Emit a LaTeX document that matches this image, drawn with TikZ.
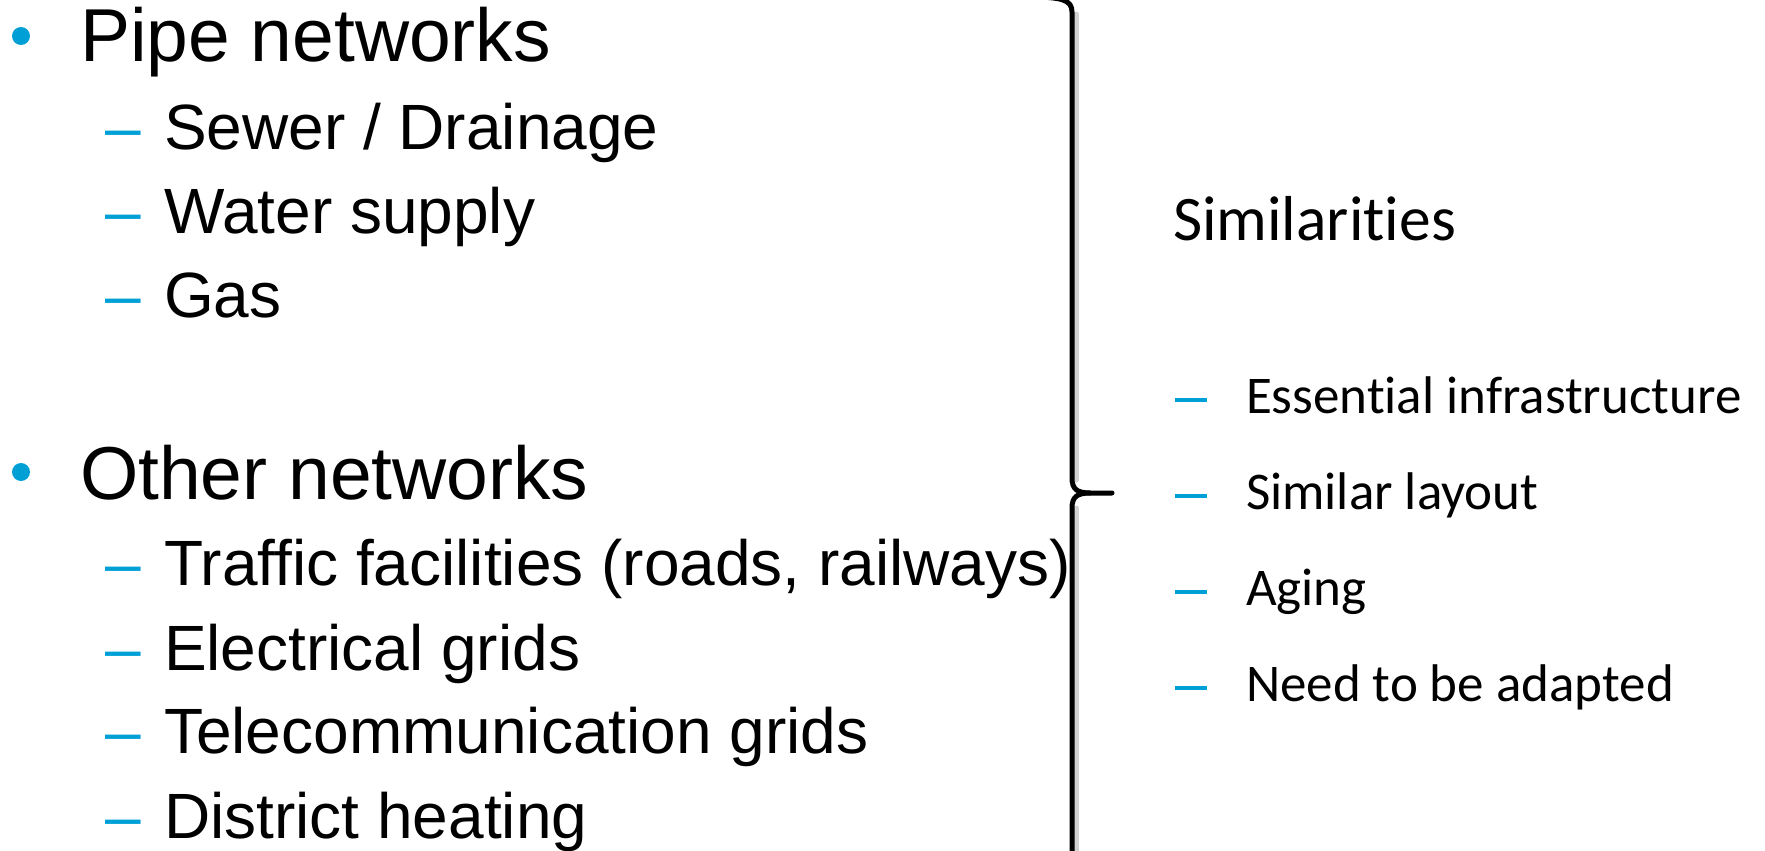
\documentclass[tikz,border=0pt]{standalone}
\usepackage{fontspec}
\setmainfont{Liberation Sans}
\newfontfamily\calibri[Ligatures=NoCommon]{Carlito}
\definecolor{bulletblue}{RGB}{0,160,215}
\tikzset{
  every node/.style={inner sep=0pt, outer sep=0pt, anchor=base west},
  mainitem/.style={font=\fontsize{75}{80}\selectfont},
  subitem/.style={font=\fontsize{64}{70}\selectfont},
  subdash/.style={font=\fontsize{64}{70}\selectfont, text=bulletblue},
  rtitle/.style={font=\calibri\fontsize{63.5}{70}\selectfont},
  ritem/.style={font=\calibri\fontsize{53}{60}\selectfont},
  bracestroke/.style={line width=5pt, line cap=round, line join=round},
  braceshadow/.style={line width=5pt, draw=black!18, line cap=round}
}
\newcommand{\rdashmark}{\textcolor{bulletblue}{\rule[11pt]{32pt}{4.5pt}}}
\begin{document}
\begin{tikzpicture}[x=1pt, y=-1pt]
\useasboundingbox (0,0) rectangle (1765,851);
\fill[white] (0,0) rectangle (1765,851);
% bullets
\fill[bulletblue] (21,36) circle (9);
\fill[bulletblue] (21,472) circle (9);
% pipe networks
\node[mainitem] (pipe) at (80,62) {Pipe networks};
\node[subdash] (d1) at (105,149) {–};
\node[subitem] (sewer) at (164,149) {Sewer / Drainage};
\node[subdash] (d2) at (105,233) {–};
\node[subitem] (water) at (164,233) {Water supply};
\node[subdash] (d3) at (105,317) {–};
\node[subitem] (gas) at (164,317) {Gas};
% other networks
\node[mainitem] (other) at (80,499) {Other networks};
\node[subdash] (d4) at (105,585) {–};
\node[subitem] (traffic) at (164,585) {Traffic facilities (roads, railways)};
\node[subdash] (d5) at (105,670) {–};
\node[subitem] (elec) at (164,670) {Electrical grids};
\node[subdash] (d6) at (105,753) {–};
\node[subitem] (tele) at (164,753) {Telecommunication grids};
\node[subdash] (d7) at (105,838) {–};
\node[subitem] (heat) at (164,838) {District heating};
% brace
\begin{scope}
\clip (0,0) rectangle (1765,851);
\draw[braceshadow] (1076,14) -- (1076,480);
\draw[braceshadow] (1076,508) -- (1076,860);
\draw[bracestroke] (1030,-3) .. controls (1062,-3) and (1072,0) .. (1072,12) -- (1072,478)
  .. controls (1072,489) and (1077,493) .. (1090,493) -- (1112,493);
\draw[bracestroke] (1090,493) .. controls (1077,493) and (1072,497) .. (1072,508) -- (1072,870);
\end{scope}
% right side
\node[rtitle] (sim) at (1173,240) {Similarities};
\node (r1) at (1175,413) {\rdashmark};
\node[ritem] (ess) at (1246,413) {Essential infrastructure};
\node (r2) at (1175,509) {\rdashmark};
\node[ritem] (lay) at (1246,509) {Similar layout};
\node (r3) at (1175,605) {\rdashmark};
\node[ritem] (age) at (1246,605) {Aging};
\node (r4) at (1175,701) {\rdashmark};
\node[ritem] (adapt) at (1246,701) {Need to be adapted};
\end{tikzpicture}
\end{document}
